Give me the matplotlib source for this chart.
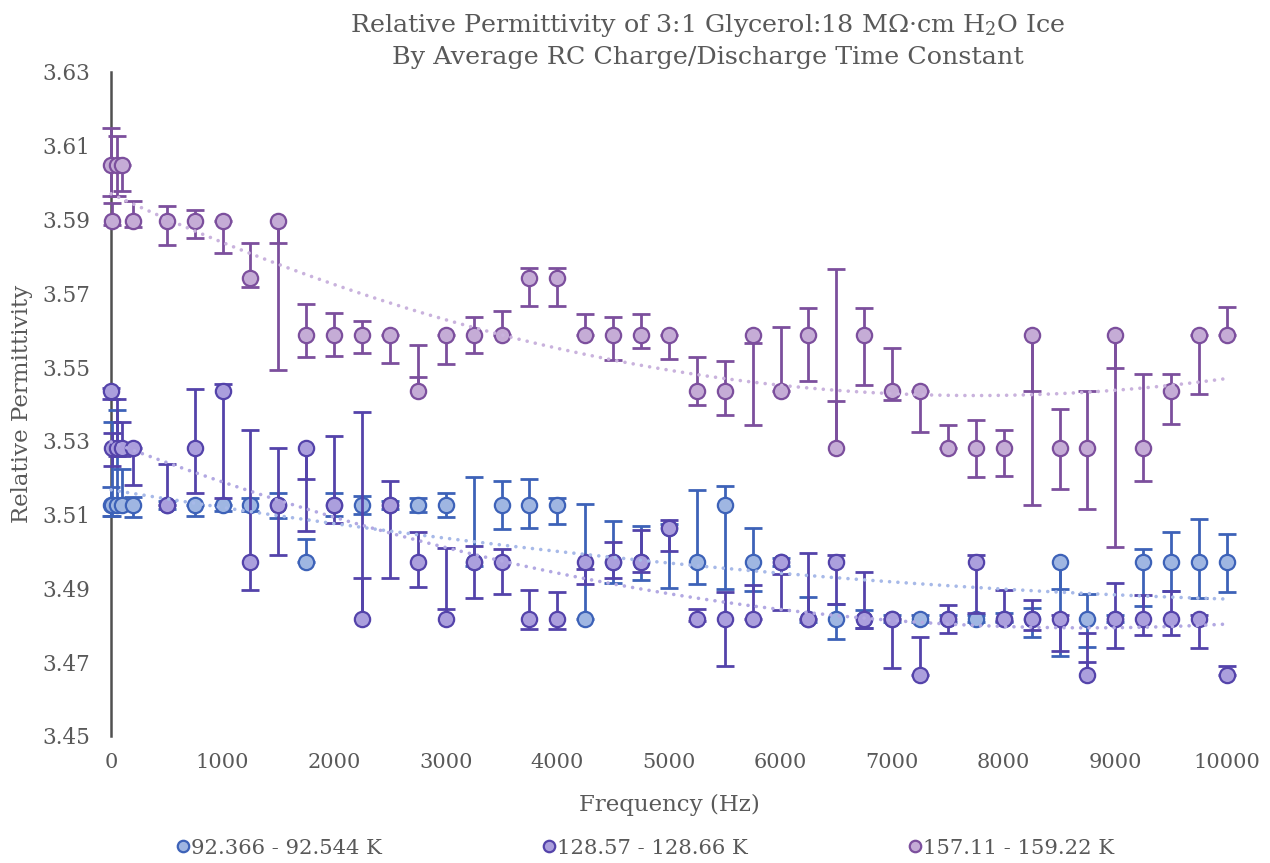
import numpy as np
import matplotlib
matplotlib.use('Agg')
import matplotlib.pyplot as plt

plt.rcParams['font.family'] = ['DejaVu Serif']
plt.rcParams['mathtext.fontset'] = 'dejavuserif'

freq = [1, 10, 50, 100, 200, 500, 750, 1000, 1250, 1500, 1750, 2000, 2250,
        2500, 2750, 3000, 3250, 3500, 3750, 4000, 4250, 4500, 4750, 5000,
        5250, 5500, 5750, 6000, 6250, 6500, 6750, 7000, 7250, 7500, 7750,
        8000, 8250, 8500, 8750, 9000, 9250, 9500, 9750, 10000]

# 92.366 - 92.544 K
eps_92 = [3.5126, 3.5126, 3.5126, 3.5126, 3.5126, 3.5126, 3.5126, 3.5126,
          3.5126, 3.5126, 3.4972, 3.5126, 3.5126, 3.5126, 3.5126, 3.5126,
          3.4972, 3.5126, 3.5126, 3.5126, 3.4818, 3.4972, 3.4972, 3.5065,
          3.4972, 3.5126, 3.4972, 3.4972, 3.4818, 3.4818, 3.4818, 3.4818,
          3.4818, 3.4818, 3.4818, 3.4818, 3.4818, 3.4972, 3.4818, 3.4818,
          3.4972, 3.4972, 3.4972, 3.4972]
plus_92 = [0.005, 0.0224, 0.0258, 0.0098, 0.0021, 0.001, 0.0, 0.0, 0.0018,
           0.0034, 0.0062, 0.0033, 0.0024, 0.001, 0.0018, 0.0034, 0.0229,
           0.0066, 0.0071, 0.0019, 0.0312, 0.0111, 0.0098, 0.001, 0.0195,
           0.0051, 0.0093, 0.001, 0.0058, 0.0041, 0.0024, 0.001, 0.001,
           0.001, 0.001, 0.0015, 0.003, -0.0074, 0.0066, 0.001, 0.0036,
           0.008, 0.0115, 0.0076]
minus_92 = [0.0029, 0.0029, 0.001, 0.001, 0.0033, 0.001, 0.0029, 0.0015,
            0.0015, 0.0034, 0.0, 0.003, 0.0023, 0.001, 0.002, 0.0033, 0.001,
            0.0065, 0.0061, 0.0052, 0.0, 0.0058, 0.005, 0.0165, 0.006,
            0.0228, 0.008, 0.001, 0.001, 0.0054, 0.0024, 0.001, 0.001, 0.001,
            0.001, 0.001, 0.005, 0.0255, 0.0077, 0.001, 0.0119, 0.008,
            0.0098, 0.0081]

# 128.57 - 128.66 K
eps_128 = [3.5434, 3.528, 3.528, 3.528, 3.528, 3.5126, 3.528, 3.5434, 3.4972,
           3.5126, 3.528, 3.5126, 3.4818, 3.5126, 3.4972, 3.4818, 3.4972,
           3.4972, 3.4818, 3.4818, 3.4972, 3.4972, 3.4972, 3.5065, 3.4818,
           3.4818, 3.4818, 3.4972, 3.4818, 3.4972, 3.4818, 3.4818, 3.4664,
           3.4818, 3.4972, 3.4818, 3.4818, 3.4818, 3.4664, 3.4818, 3.4818,
           3.4818, 3.4818, 3.4664]
plus_128 = [0.001, 0.004, 0.0133, 0.007, 0.0, 0.0111, 0.016, 0.002, 0.0358,
            0.0155, -0.0084, 0.0188, 0.0561, 0.0066, 0.0081, 0.0191, 0.0043,
            0.0036, 0.0077, 0.0072, -0.002, 0.0054, 0.0087, 0.002, 0.0027,
            0.0071, 0.009, -0.0032, 0.0177, 0.0018, 0.0127, 0.0, 0.0105,
            0.0038, 0.0018, 0.0078, 0.005, 0.001, 0.0116, 0.0096, 0.0063,
            0.0074, 0.001, 0.0027]
minus_128 = [0.002, 0.0048, 0.002, 0.002, 0.010, 0.0, 0.012, 0.029, 0.0076,
             0.0136, 0.0224, 0.0049, -0.0111, 0.0198, 0.0068, -0.0025, 0.0097,
             0.0088, 0.0029, 0.0027, 0.0061, 0.0045, 0.0027, 0.0063, 0.0005,
             0.0129, 0.0, 0.0131, 0.0, 0.0113, 0.0024, 0.0134, 0.0, 0.004,
             0.014, 0.0005, 0.003, 0.0088, -0.0036, 0.0079, 0.0044, 0.0043,
             0.008, 0.0]

# 157.11 - 159.22 K
eps_157 = [3.6049, 3.5895, 3.6049, 3.6049, 3.5895, 3.5895, 3.5895, 3.5895,
           3.5741, 3.5895, 3.5588, 3.5588, 3.5588, 3.5588, 3.5434, 3.5588,
           3.5588, 3.5588, 3.5741, 3.5741, 3.5588, 3.5588, 3.5588, 3.5588,
           3.5434, 3.5434, 3.5588, 3.5434, 3.5588, 3.528, 3.5588, 3.5434,
           3.5434, 3.528, 3.528, 3.528, 3.5588, 3.528, 3.528, 3.5588, 3.528,
           3.5434, 3.5588, 3.5588]
plus_157 = [0.0098, 0.005, 0.0077, 0.0, 0.0054, 0.0041, 0.0032, 0.0, 0.0095,
            -0.0058, 0.0083, 0.0059, 0.0036, 0.0, 0.0126, 0.0, 0.0047, 0.0064,
            0.0027, 0.0027, 0.0057, 0.0047, 0.0057, 0.0, 0.0092, 0.0083,
            -0.0022, 0.0176, 0.0072, 0.0487, 0.0073, 0.0117, 0.0, 0.0062,
            0.0076, 0.0049, -0.0153, 0.0106, 0.0155, -0.009, 0.020, 0.0047,
            0.0, 0.0075]
minus_157 = [0.0084, 0.001, 0.0084, 0.0071, 0.0015, 0.0063, 0.0045, 0.0086,
             0.0023, 0.0403, 0.006, 0.0058, 0.0051, 0.0077, -0.0038, 0.0079,
             0.0051, 0.0, 0.0076, 0.0076, 0.0, 0.007, 0.0036, 0.0066, 0.0036,
             0.0064, 0.0245, 0.0, 0.0127, -0.0128, 0.0137, 0.0022, 0.0109, 0.0,
             0.0078, 0.0075, 0.0461, 0.011, 0.0166, 0.0577, 0.009, 0.0088,
             0.016, 0.0]

labels = ['92.366 - 92.544 K', '128.57 - 128.66 K', '157.11 - 159.22 K']
fills = ['#9fb6e2', '#ab9fdd', '#c5acd6']
edges = ['#3d62b8', '#5443aa', '#7c4f9d']
trend_colors = ['#a7b9e8', '#b2a8e2', '#c9b2dd']

fig = plt.figure(figsize=(12.7, 8.63), dpi=100)
ax = fig.add_axes([0.0874, 0.1472, 0.8787, 0.7694])

series = [(eps_92, plus_92, minus_92), (eps_128, plus_128, minus_128),
          (eps_157, plus_157, minus_157)]
x = np.array(freq, dtype=float)
for i, (v, p, m) in enumerate(series):
    v = np.array(v)
    hi = v + np.array(p)
    lo = v - np.array(m)
    z = 3 + i
    ax.vlines(x, v, hi, color=edges[i], lw=2, zorder=z, clip_on=False)
    ax.vlines(x, v, lo, color=edges[i], lw=2, zorder=z, clip_on=False)
    ax.plot(x, hi, ls='none', marker='_', ms=13, mew=2, color=edges[i],
            zorder=z, clip_on=False)
    ax.plot(x, lo, ls='none', marker='_', ms=13, mew=2, color=edges[i],
            zorder=z, clip_on=False)
    ax.plot(x, v, ls='none', marker='o', ms=11, mfc=fills[i], mec=edges[i],
            mew=1.6, zorder=z + 0.5, label=labels[i], clip_on=False)

# polynomial (order 2) trendlines
xs = np.linspace(min(freq), max(freq), 300)
for i, (v, p, m) in enumerate(series):
    coef = np.polyfit(x, v, 2)
    ax.plot(xs, np.polyval(coef, xs), color=trend_colors[i], lw=2.6,
            dashes=(0.01, 2.3), dash_capstyle='round', zorder=10, clip_on=False)

gray = '#595959'
ax.set_xlim(0, 10000)
ax.set_ylim(3.45, 3.63)
ax.set_xticks(np.arange(0, 10001, 1000))
ax.set_yticks(np.arange(3.45, 3.6301, 0.02))
ax.set_yticklabels(['%.2f' % t for t in np.arange(3.45, 3.6301, 0.02)])
ax.tick_params(axis='y', length=0, labelsize=15.5, colors=gray, pad=15)
ax.tick_params(axis='x', length=0, labelsize=15, colors=gray, pad=12)
for s in ['top', 'right', 'bottom']:
    ax.spines[s].set_visible(False)
ax.spines['left'].set_color('#505050')
ax.spines['left'].set_linewidth(1.8)

ax.set_xlabel('Frequency (Hz)', fontsize=16.5, color=gray, labelpad=16)
ax.set_ylabel('Relative Permittivity', fontsize=16.5, color=gray)
ax.yaxis.set_label_coords(-0.07, 0.5)
fig.text(0.557, 0.986, 'Relative Permittivity of 3:1 Glycerol:18 M\u03a9\u00b7cm H$_2$O Ice\n'
         'By Average RC Charge/Discharge Time Constant',
         ha='center', va='top', fontsize=18.3, color=gray, linespacing=1.4)

fig.legend(loc='center', bbox_to_anchor=(0.508, 0.017), ncol=3, frameon=False,
           fontsize=15.2, labelcolor=gray, markerscale=0.75, handlelength=0.6,
           handletextpad=0.1, columnspacing=7.6)

fig.savefig('out.png')
